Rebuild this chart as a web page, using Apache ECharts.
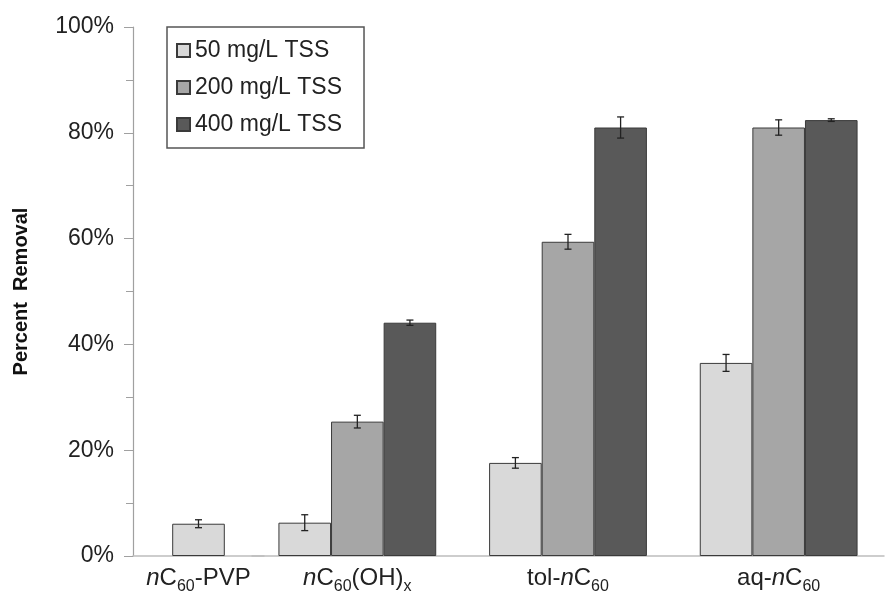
<!DOCTYPE html>
<html>
<head>
<meta charset="utf-8">
<script src="https://cdn.jsdelivr.net/npm/echarts@6/dist/echarts.min.js"></script>
<style>html,body{margin:0;padding:0;background:#fff;}#c{width:889px;height:595px;}</style>
</head>
<body>
<div id="c"></div>
<script>
// ---- data ----
const categories = ['nC60-PVP', 'nC60(OH)x', 'tol-nC60', 'aq-nC60'];
const seriesNames = ['50 mg/L TSS', '200 mg/L TSS', '400 mg/L TSS'];
const tss50  = [6.1, 6.3, 17.6, 36.5];
const tss200 = [null, 25.4, 59.4, 81.0];
const tss400 = [null, 44.1, 81.0, 82.4];
const err50  = [0.75, 1.5, 1.0, 1.6];
const err200 = [null, 1.2, 1.4, 1.45];
const err400 = [null, 0.5, 2.0, 0.25];
const yTicks = [0, 20, 40, 60, 80, 100];

// ---- styling ----
const FONT = '"Liberation Sans", Arial, sans-serif';
const colors = ['#d9d9d9', '#a6a6a6', '#595959'];
const BAR_W = 52.6;
const values = [tss50, tss200, tss400];
const errors = [err50, err200, err400];

function labelFmt(s) {
  return s.replace(/n(?=C60)/, '{i|n}').replace('60', '{s|60}').replace(')x', '){s|x}');
}
const rich = {
  i: {fontStyle: 'italic', fontSize: 24, color: '#222', fontFamily: FONT},
  s: {fontSize: 16, color: '#222', fontFamily: FONT, padding: [17, 0, 0, 0]}
};

const chart = echarts.init(document.getElementById('c'));

function errSeries(gridIdx, si, catOffset, cats) {
  const data = [];
  cats.forEach((c, k) => {
    const idx = k + catOffset;
    if (values[si][idx] != null) data.push([k, values[si][idx], errors[si][idx]]);
  });
  const offset = gridIdx === 0 ? 0 : (si - 1) * BAR_W;
  return {
    type: 'custom', xAxisIndex: gridIdx, yAxisIndex: gridIdx, z: 5, silent: true,
    data: data,
    renderItem: function (params, api) {
      const k = api.value(0), v = api.value(1), e = api.value(2);
      const hi = api.coord([k, v + e]);
      const lo = api.coord([k, v - e]);
      const x = hi[0] + offset;
      const cap = 3.5;
      const st = {stroke: '#222', lineWidth: 1.3};
      return {type: 'group', children: [
        {type: 'line', shape: {x1: x, y1: hi[1], x2: x, y2: lo[1]}, style: st},
        {type: 'line', shape: {x1: x - cap, y1: hi[1], x2: x + cap, y2: hi[1]}, style: st},
        {type: 'line', shape: {x1: x - cap, y1: lo[1], x2: x + cap, y2: lo[1]}, style: st}
      ]};
    }
  };
}

const cats1 = categories.slice(0, 1);
const cats2 = categories.slice(1);

const xAxisCommon = {
  type: 'category',
  axisLine: {lineStyle: {color: '#bdbdbd', width: 1.5}},
  axisTick: {show: false},
  axisLabel: {interval: 0, fontSize: 24, color: '#222', fontFamily: FONT, margin: 6, formatter: labelFmt, rich: rich},
  splitLine: {show: false}
};

const option = {
  animation: false,
  backgroundColor: '#fff',
  textStyle: {fontFamily: FONT},
  grid: [
    {left: 133, right: 889 - 264, top: 27, bottom: 39, containLabel: false, outerBoundsMode: 'none'},
    {left: 252, right: 5, top: 27, bottom: 39, containLabel: false, outerBoundsMode: 'none'}
  ],
  legend: {
    data: seriesNames,
    orient: 'vertical',
    left: 167, top: 27,
    icon: 'rect',
    itemWidth: 13, itemHeight: 13,
    itemGap: 14,
    padding: [12, 22, 12, 9],
    borderColor: '#555', borderWidth: 1.5,
    backgroundColor: '#fff',
    textStyle: {fontSize: 23, color: '#222', fontFamily: FONT, padding: [0, 0, 0, 0]}
  },
  xAxis: [
    Object.assign({}, xAxisCommon, {gridIndex: 0, data: cats1}),
    Object.assign({}, xAxisCommon, {gridIndex: 1, data: cats2})
  ],
  yAxis: [
    {
      type: 'value', gridIndex: 0, min: yTicks[0], max: yTicks[yTicks.length - 1], interval: 20,
      name: 'Percent  Removal', nameLocation: 'middle', nameGap: 102,
      nameTextStyle: {fontSize: 20, fontWeight: 'bold', color: '#111', fontFamily: FONT},
      axisLine: {show: true, lineStyle: {color: '#a0a0a0', width: 1.2}},
      axisTick: {show: true, length: 9, lineStyle: {color: '#a0a0a0'}},
      minorTick: {show: true, splitNumber: 2, length: 7, lineStyle: {color: '#a0a0a0'}},
      axisLabel: {fontSize: 23, color: '#222', fontFamily: FONT, margin: 19, formatter: '{value}%'},
      splitLine: {show: false}
    },
    {
      type: 'value', gridIndex: 1, min: yTicks[0], max: yTicks[yTicks.length - 1], interval: 20,
      show: false, splitLine: {show: false}
    }
  ],
  series: [
    {
      type: 'bar', name: seriesNames[0], xAxisIndex: 0, yAxisIndex: 0,
      data: tss50.slice(0, 1), barWidth: BAR_W,
      itemStyle: {color: colors[0], borderColor: '#3a3a3a', borderWidth: 1}
    }
  ].concat(seriesNames.map((n, si) => ({
    type: 'bar', name: n, xAxisIndex: 1, yAxisIndex: 1,
    data: values[si].slice(1), barWidth: BAR_W, barGap: '0%',
    itemStyle: {color: colors[si], borderColor: '#3a3a3a', borderWidth: 1}
  }))).concat([
    errSeries(0, 0, 0, cats1)
  ]).concat(seriesNames.map((n, si) => errSeries(1, si, 1, cats2)))
};

chart.setOption(option);
</script>
</body>
</html>
